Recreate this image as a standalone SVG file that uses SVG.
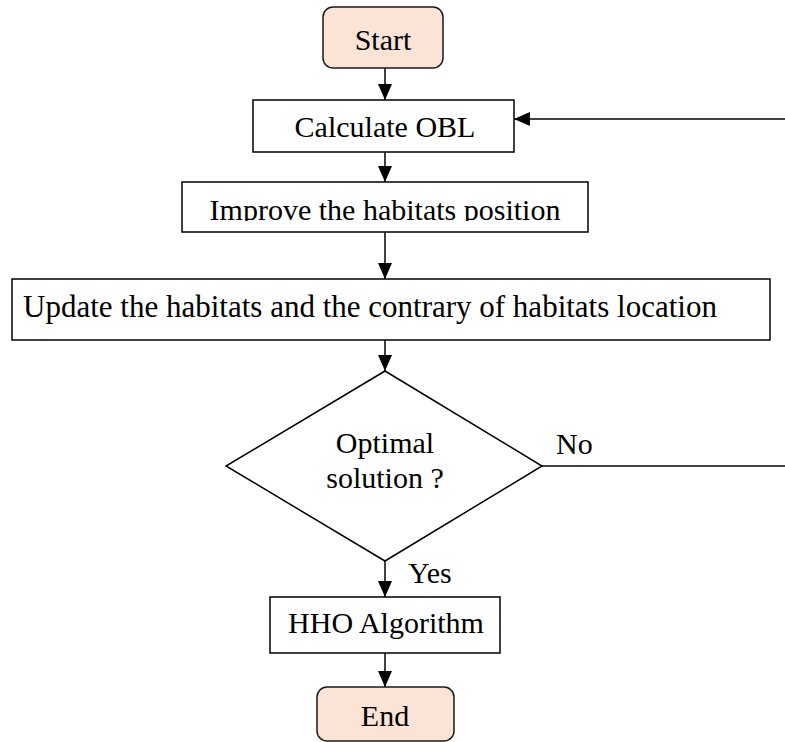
<svg xmlns="http://www.w3.org/2000/svg" width="785" height="742" viewBox="0 0 785 742">
  <style>
    .box { fill: #ffffff; stroke: #000000; stroke-width: 1.5; }
    .term { fill: #fbe4d6; stroke: #1a1a1a; stroke-width: 1.5; }
    .lbl { font-family: "Liberation Serif", "Times New Roman", serif; font-size: 30px; fill: #000000; }
    .mid { text-anchor: middle; }
    .flow { fill: none; stroke: #000000; stroke-width: 1.5; }
  </style>
  <defs>
    <marker id="arrow" markerWidth="16" markerHeight="14" refX="16" refY="7" orient="auto" markerUnits="userSpaceOnUse">
      <path d="M0,0 L16,7 L0,14 Z" fill="#000000"/>
    </marker>
    <clipPath id="improveClip">
      <rect x="182" y="182" width="406" height="39"/>
    </clipPath>
  </defs>

  <!-- connectors -->
  <g id="connectors">
    <line class="flow" x1="385" y1="68" x2="385" y2="100" marker-end="url(#arrow)"/>
    <line class="flow" x1="385" y1="152" x2="385" y2="182" marker-end="url(#arrow)"/>
    <line class="flow" x1="385" y1="232" x2="385" y2="279" marker-end="url(#arrow)"/>
    <line class="flow" x1="385" y1="340" x2="385" y2="371" marker-end="url(#arrow)"/>
    <line class="flow" x1="385" y1="561" x2="385" y2="597" marker-end="url(#arrow)"/>
    <line class="flow" x1="385" y1="653" x2="385" y2="687" marker-end="url(#arrow)"/>
    <!-- "No" branch loops back to Calculate OBL -->
    <line class="flow" x1="542" y1="466" x2="785" y2="466"/>
    <line class="flow" x1="785" y1="119" x2="514" y2="119" marker-end="url(#arrow)"/>
    <text class="lbl" x="556" y="454">No</text>
    <text class="lbl" x="408" y="583">Yes</text>
  </g>

  <g id="start">
    <rect class="term" x="323" y="7" width="120" height="61" rx="10" ry="10"/>
    <text class="lbl mid" x="383" y="50">Start</text>
  </g>

  <g id="calculate-obl">
    <rect class="box" x="253" y="100" width="261" height="52"/>
    <text class="lbl mid" x="385" y="137">Calculate OBL</text>
  </g>

  <g id="improve-position">
    <rect class="box" x="182" y="182" width="406" height="50"/>
    <text class="lbl mid" x="385" y="220" clip-path="url(#improveClip)">Improve the habitats position</text>
  </g>

  <g id="update-habitats">
    <rect class="box" x="12" y="279" width="758" height="61"/>
    <text class="lbl mid" x="370" y="317" style="font-size:31px">Update the habitats and the contrary of habitats location</text>
  </g>

  <g id="optimal-decision">
    <polygon class="box" points="385,371 542,466 385,561 226,466"/>
    <text class="lbl mid" x="385" y="453">Optimal</text>
    <text class="lbl mid" x="385" y="488">solution ?</text>
  </g>

  <g id="hho-algorithm">
    <rect class="box" x="270" y="597" width="230" height="56"/>
    <text class="lbl mid" x="386" y="633">HHO Algorithm</text>
  </g>

  <g id="end">
    <rect class="term" x="317" y="687" width="137" height="54" rx="10" ry="10"/>
    <text class="lbl mid" x="385" y="726">End</text>
  </g>
</svg>
